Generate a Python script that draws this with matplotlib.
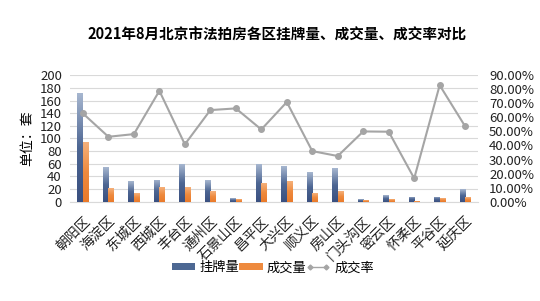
import matplotlib
matplotlib.use("Agg")
import matplotlib.pyplot as plt
from matplotlib.lines import Line2D
from matplotlib.colors import LinearSegmentedColormap
import numpy as np

plt.rcParams['font.family'] = ['Noto Sans CJK SC', 'DejaVu Sans']

# ==============================
# DATA
# ==============================

districts = ["朝阳区", "海淀区", "东城区", "西城区", "丰台区", "通州区", "石景山区", "昌平区",
             "大兴区", "顺义区", "房山区", "门头沟区", "密云区", "怀柔区", "平谷区", "延庆区"]
listed = [172, 55, 33, 35, 60, 34, 6, 60, 56, 47, 53, 4, 11, 8, 8, 20]
sold = [94, 21, 14, 23, 23, 17, 4, 30, 33, 14, 17, 2.5, 4, 1, 6, 7]
rate = [62.8, 46.2, 48.1, 78.9, 40.8, 65.2, 66.4, 51.4, 70.9, 36.0, 32.5, 50.0, 49.8, 16.6, 82.9, 53.6]

left_ticks = list(range(0, 201, 20))
right_ticks = list(range(0, 91, 10))

# ==============================
# PLOT
# ==============================

fig = plt.figure(figsize=(5.4, 3.01), dpi=100)
ax = fig.add_axes([0.13, 0.33, 0.755, 0.42])
ax2 = ax.twinx()

x = np.arange(len(districts))
w = 0.22
bars1 = ax.bar(x - w / 2, listed, w, color="#4D6893", label="挂牌量", zorder=3)
bars2 = ax.bar(x + w / 2, sold, w, color="#EE8A3E", label="成交量", zorder=3)

# gradient fill, light at top -> dark at bottom
blue_cm = LinearSegmentedColormap.from_list("b", ["#3A5080", "#4D6693", "#A6B6CF"])
orange_cm = LinearSegmentedColormap.from_list("o", ["#EA7A2A", "#EE8A3E", "#F5B07A"])
grad = np.linspace(0, 1, 64).reshape(-1, 1)
for bars, cm in ((bars1, blue_cm), (bars2, orange_cm)):
    for b in bars:
        x0, y0 = b.get_x(), b.get_y()
        img = ax.imshow(grad, cmap=cm, origin="lower", aspect="auto",
                        extent=(x0, x0 + b.get_width(), y0, y0 + b.get_height()), zorder=3.5)
        img.set_clip_path(b)

ax2.plot(x, rate, color="#A5A5A5", marker="o", markersize=4, linewidth=1.5)

ax.set_xlim(-0.5, len(districts) - 0.5)
ax.set_ylim(0, 200)
ax.set_yticks(left_ticks)
ax.grid(axis="y", color="#D9D9D9", linewidth=0.8, zorder=0)
ax.set_axisbelow(True)

ax2.set_ylim(0, 90)
ax2.set_yticks(right_ticks)
ax2.set_yticklabels([f"{t:.2f}%" for t in right_ticks])

for a in (ax, ax2):
    for s in a.spines.values():
        s.set_visible(False)
    a.tick_params(length=0, labelsize=9.5, colors="#222222")

ax2.tick_params(axis="y", pad=8)
ax.tick_params(axis="y", pad=6)

ax.spines["bottom"].set_visible(True)
ax.spines["bottom"].set_color("#D9D9D9")

ax.set_xticks(x)
ax.set_xticklabels(districts, rotation=45, ha="right", rotation_mode="anchor", fontsize=10)
ax.tick_params(axis="x", pad=9)

ax.set_ylabel("单位：套", fontsize=10, labelpad=4)

fig.text(0.513, 0.884, "2021年8月北京市法拍房各区挂牌量、成交量、成交率对比", fontsize=10.5,
         fontweight="bold", ha="center", va="center")

h1, l1 = ax.get_legend_handles_labels()
rate_handle = Line2D([], [], color="#A5A5A5", linewidth=1, marker="D", markersize=2.5)
fig.legend(h1 + [rate_handle], l1 + ["成交率"], loc="center", bbox_to_anchor=(0.505, 0.11), ncol=3,
           frameon=False, fontsize=9.5, handlelength=1.8, handleheight=0.45,
           columnspacing=0.0, handletextpad=0.3, numpoints=2)

plt.savefig("out.png", dpi=100)
